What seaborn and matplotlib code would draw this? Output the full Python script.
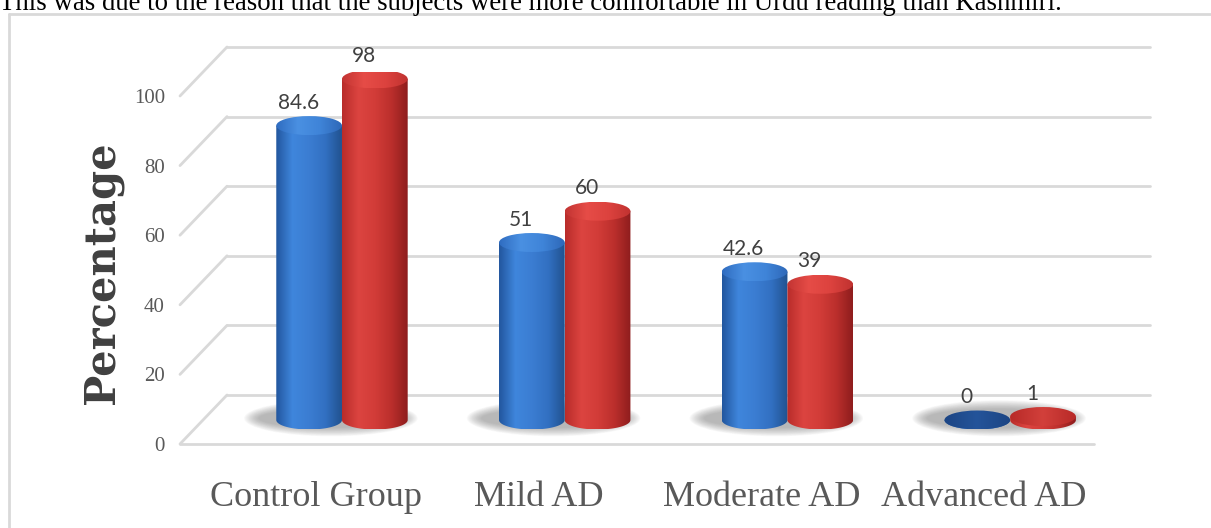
import numpy as np
import pandas as pd
import matplotlib
matplotlib.use("Agg")
import matplotlib.pyplot as plt
import seaborn as sns
from matplotlib.patches import Ellipse, Polygon
from matplotlib.colors import LinearSegmentedColormap
from matplotlib.transforms import offset_copy, ScaledTranslation

# ---------------- data ----------------
categories = ["Control Group", "Mild AD", "Moderate AD", "Advanced AD"]
series_names = ["Kashmiri", "Urdu"]
series_blue = [84.6, 51, 42.6, 0]
series_red = [98, 60, 39, 1]
y_ticks = [0, 20, 40, 60, 80, 100]
y_label = "Percentage"
top_text = "This was due to the reason that the subjects were more comfortable in Urdu reading than Kashmiri."

df = pd.DataFrame({
    "group": categories * 2,
    "value": series_blue + series_red,
    "series": [series_names[0]] * 4 + [series_names[1]] * 4,
})

W, H, DPI = 1211, 528, 100
sns.set_theme(style="white")
plt.rcParams["font.family"] = ["Liberation Serif", "DejaVu Serif"]

fig = plt.figure(figsize=(W / DPI, H / DPI), dpi=DPI)
fig.patch.set_facecolor("white")

# axes in pixel layout (mid-depth plane of the 3D chart)
YLIM = (-8, 100)
zero_px, top_px = 420, 72
px_per_y = (zero_px - top_px) / 100.0
ax_l, ax_r = 203, 1126
ax_t = top_px
ax_b = zero_px - YLIM[0] * px_per_y
ax = fig.add_axes([ax_l / W, (H - ax_b) / H, (ax_r - ax_l) / W, (ax_b - ax_t) / H])
ax.set_facecolor("none")

blue, red = "#3a7bd0", "#d03a36"
sns.barplot(data=df, x="group", y="value", hue="series", palette=[blue, red],
            width=0.59, ax=ax, legend=False, saturation=1)

XLIM = (-0.624, 3.52)
ax.set_xlim(*XLIM)
ax.set_ylim(*YLIM)
for s in ax.spines.values():
    s.set_visible(False)
ax.set_xlabel("")
ax.set_ylabel("")

# ---------------- 3D-ish grid ----------------
grid_c = "#d9d9d9"
BX, BY = 24, 25     # back-plane pixel offset
FX, FY = -23, -24   # front-plane pixel offset
yax = ax.get_yaxis_transform()
back_t = offset_copy(yax, fig=fig, x=BX, y=BY, units="dots")
front_t = offset_copy(yax, fig=fig, x=FX, y=FY, units="dots")
for v in y_ticks:
    ax.plot([0, 1], [v, v], transform=back_t, color=grid_c, lw=2, zorder=0, clip_on=False)
ax.plot([0, 0.99], [0, 0], transform=front_t, color=grid_c, lw=2, zorder=0, clip_on=False)
inv = ax.transData.inverted()
for v in y_ticks:
    p0 = ax.transData.transform((XLIM[0], v))
    a = inv.transform((p0[0] + FX, p0[1] + FY))
    b = inv.transform((p0[0] + BX, p0[1] + BY))
    ax.plot([a[0], b[0]], [a[1], b[1]], color=grid_c, lw=2, zorder=0, clip_on=False)

# ---------------- cylinders ----------------
eh = 19 / px_per_y  # ellipse height in data units

body_maps = [
    LinearSegmentedColormap.from_list("b", ["#22569e", "#3f86dc", "#3b7dd2", "#3270c2", "#21528f"]),
    LinearSegmentedColormap.from_list("r", ["#b82c2a", "#dc4440", "#d23c38", "#bb2f2c", "#8e1d1d"]),
]
top_maps = [
    LinearSegmentedColormap.from_list("bt", ["#2f6cc0", "#4a90e2", "#3f84d8", "#2e68b8"]),
    LinearSegmentedColormap.from_list("rt", ["#c23432", "#e64c47", "#dc423e", "#c03230"]),
]
flat_maps = [
    LinearSegmentedColormap.from_list("bf", ["#1c4584", "#24549a", "#1c4584"]),
    LinearSegmentedColormap.from_list("rf", ["#b82a28", "#d2403b", "#b82a28"]),
]
grad = np.linspace(0, 1, 256).reshape(1, -1)

# soft floor shadows behind each pair (slightly to the left)
cont0, cont1 = ax.containers[0], ax.containers[1]
for p_b, p_r in zip(cont0.patches, cont1.patches):
    left = p_b.get_x()
    right = p_r.get_x() + p_r.get_width()
    cx = (left + right) / 2 - 0.05
    n = 14
    for k in range(n):
        f = k / (n - 1)
        ax.add_patch(Ellipse((cx, 0.5), (right - left) * (1.32 - 0.22 * f), eh * (1.9 - 0.9 * f),
                             facecolor="#707070", edgecolor="none", alpha=0.045, zorder=1))

t = np.linspace(0, np.pi, 60)
for si, cont in enumerate(ax.containers):
    for p in cont.patches:
        x0, w, h = p.get_x(), p.get_width(), p.get_height()
        p.set_visible(False)
        cx = x0 + w / 2
        z = 3 + si
        pts = np.vstack([[x0, h], [x0 + w, h], [x0 + w, 0]] +
                        list(zip(cx + (w / 2) * np.cos(t), -(eh / 2) * np.sin(t))) + [[x0, 0]])
        poly = Polygon(pts, closed=True, transform=ax.transData, facecolor="none", edgecolor="none")
        ax.add_patch(poly)
        im = ax.imshow(grad, extent=[x0, x0 + w, -eh / 2, h + 0.01], aspect="auto",
                       cmap=body_maps[si], zorder=z, interpolation="bilinear")
        im.set_clip_path(poly)
        top = Ellipse((cx, h), w, eh, transform=ax.transData, facecolor="none", edgecolor="none")
        ax.add_patch(top)
        cmap_top = flat_maps[si] if h < 2 else top_maps[si]
        im2 = ax.imshow(grad, extent=[x0, x0 + w, h - eh / 2, h + eh / 2], aspect="auto",
                        cmap=cmap_top, zorder=z + 0.5, interpolation="bilinear")
        im2.set_clip_path(top)
        ax.annotate(f"{h:g}", (cx, h), xytext=(-11, 23), textcoords="offset pixels",
                    ha="center", va="center", fontsize=15, color="#404040",
                    family=["Lato", "DejaVu Sans"], zorder=10, annotation_clip=False)

ax.set_xlim(*XLIM)
ax.set_ylim(*YLIM)

# ---------------- ticks ----------------
ax.set_yticks(y_ticks)
ax.set_yticklabels([str(v) for v in y_ticks])
ax.tick_params(axis="y", length=0, pad=27.4, labelsize=15, labelcolor="#595959")
for lab in ax.get_yticklabels():
    lab.set_transform(lab.get_transform() + ScaledTranslation(0, -24 / DPI, fig.dpi_scale_trans))
ax.tick_params(axis="x", length=0, pad=1, labelsize=26, labelcolor="#595959")
for lab in ax.get_xticklabels():
    lab.set_transform(lab.get_transform() +
                      ScaledTranslation(-26 / DPI, -(60 - (ax_b - zero_px)) / DPI, fig.dpi_scale_trans))
ax.grid(False)

# y label
fig.text(102 / W, 1 - 273 / H, y_label, rotation=90, ha="center", va="center",
         fontsize=30, fontweight="bold", color="#404040",
         family=["DejaVu Serif"])

# top sentence (cropped at top edge, as in the source) and chart border
fig.text(-1 / W, 1 - 10 / H, top_text, ha="left", va="baseline", fontsize=19.3, color="black",
         family=["Liberation Serif", "DejaVu Serif"])
fig.add_artist(plt.Line2D([9 / W, 1], [1 - 14 / H, 1 - 14 / H], color="#d9d9d9", lw=2,
                          transform=fig.transFigure))
fig.add_artist(plt.Line2D([9 / W, 9 / W], [0, 1 - 14 / H], color="#d9d9d9", lw=2,
                          transform=fig.transFigure))

fig.savefig("out.png", dpi=DPI, facecolor="white")
